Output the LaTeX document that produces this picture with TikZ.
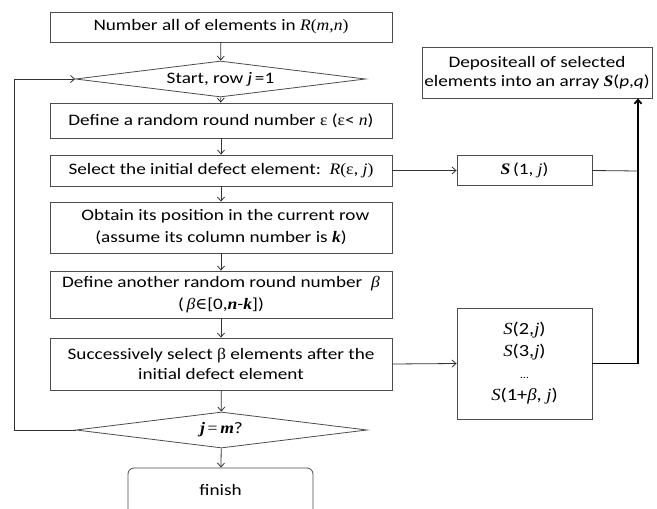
\documentclass[tikz,border=0pt]{standalone}
\usepackage{fontspec}
\setmainfont{Carlito}[FakeStretch=1.2]
\newfontfamily\tms{Liberation Serif}[FakeStretch=1.1]
\newfontfamily\dvs{DejaVu Serif}
\usetikzlibrary{arrows.meta,shapes.geometric}
\newcommand{\vi}[1]{{\tms\itshape #1}}
\newcommand{\vb}[1]{{\tms\bfseries\itshape #1}}
\newcommand{\vr}[1]{{\tms #1}}
\tikzset{
  boxst/.style={draw=black!70, line width=0.8pt, minimum width=342pt, inner sep=0pt, align=center, font=\fontsize{16}{22}\selectfont},
  sbox/.style={draw=black!70, line width=0.8pt, minimum width=135pt, inner sep=0pt, align=center, font=\fontsize{16}{22}\selectfont},
  diast/.style={diamond, draw=black!70, line width=0.8pt, aspect=8, inner sep=0pt, minimum width=290pt, minimum height=36pt, font=\fontsize{16}{22}\selectfont},
  arr/.style={-{Straight Barb[length=4pt,width=7pt]}, line width=0.8pt, draw=black!80},
  ln/.style={line width=0.8pt, draw=black!80},
  thick line/.style={line width=1.8pt, draw=black},
}
\begin{document}
\begin{tikzpicture}[x=1pt,y=-1pt]
\path[use as bounding box, clip] (0,0) rectangle (657,509);
\fill[white] (0,0) rectangle (657,509);

\node[boxst, minimum height=30pt] (b1) at (221,27) {Number all of elements in \vi{R}\vr{(}\vi{m}\vr{,}\vi{n}\vr{)}};
\node[diast] (d1) at (220.5,79) {Start, row \textit{j}\,=1};
\node[boxst, minimum height=35pt] (b2) at (221,120.5) {Define a random round number \vr{ε} (\vr{ε}< \vi{n})};
\node[boxst, minimum height=31pt] (b3) at (221,170.5) {Select the initial defect element:\ \ \vi{R}\vr{(ε}, \vi{j}\vr{)}};
\node[boxst, minimum height=51pt] (b4) at (221,227.5) {\ \ Obtain its position in the current row\\(assume its column number is \vb{k})};
\node[boxst, minimum height=47pt] (b5) at (221,294.5) {Define another random round number\ \ \vi{β}\\(\,\vi{β}{\dvs ∈}[0,\vb{n}-\vb{k}])};
\node[boxst, minimum height=52pt, font=\fontsize{16}{20}\selectfont] (b6) at (221,364) {Successively select \vr{β} elements after the\\initial defect element};
\node[diast, minimum width=291pt] (d2) at (221.5,430) {\vb{j}\,\vr{=}\,\vb{m}?};
\node[draw=black!70, line width=0.8pt, rounded corners=6pt, minimum width=185pt, minimum height=60pt, font=\fontsize{16}{22}\selectfont] (fin) at (220.5,498) {};
\node[font=\fontsize{16}{22}\selectfont] (fint) at (220.5,490) {finish};

\node[sbox, minimum height=30pt] (s1) at (524.5,170.5) {\vb{S}\,(1, \vi{j})};
\node[sbox, minimum height=111pt, font=\fontsize{17}{22}\selectfont] (s2) at (524.5,363.5) {\vi{S}(2,\vi{j})\\\vi{S}(3,\vi{j})\\{\fontsize{10}{12}\selectfont …}\\\vi{S}(1+\vi{β}, \vi{j})};
\node[draw=black!70, line width=0.8pt, minimum width=230pt, minimum height=51pt, inner sep=0pt, align=center, font=\fontsize{16}{19}\selectfont] (dep) at (537,72.5) {Depositeall of selected\\elements into an array \vb{S}(\textit{p},\textit{q})};

\draw[arr] (b1) -- (d1);
\draw[arr] (d1) -- (b2);
\draw[arr] (b2) -- (b3);
\draw[arr] (b3) -- (b4);
\draw[arr] (b4) -- (b5);
\draw[arr] (b5) -- (b6);
\draw[arr] (b6) -- (d2);
\draw[arr] (d2) -- (fin);

\coordinate (lb) at (14,430);
\coordinate (lt) at (14,79);
\draw[ln] (d2.west) -- (lb) -- (lt);
\draw[arr] (lt) -- (d1.west);

\draw[arr] (b3.east) -- (s1.west);
\draw[arr] (b6.east) -- (s2.west);
\coordinate (rt) at (638,171);
\coordinate (rb) at (638,363.5);
\draw[ln] (s1.east) -- (rt);
\draw[thick line] (s2.east) -- (rb);
\draw[thick line, -{Straight Barb[length=4pt,width=7pt]}] (rb) -- (dep.south -| rb);
\end{tikzpicture}
\end{document}
